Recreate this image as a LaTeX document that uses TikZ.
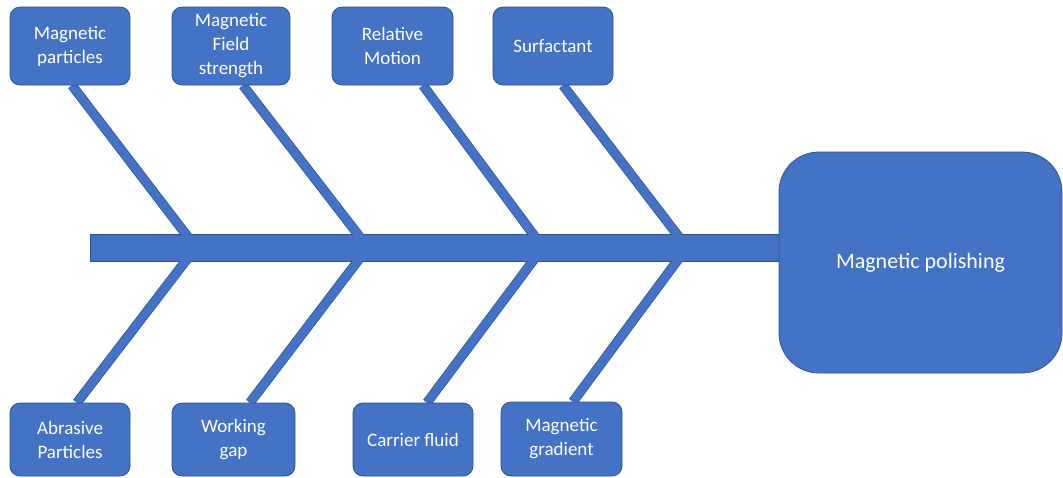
\documentclass[tikz,border=0pt]{standalone}
\usepackage{fontspec}
\setmainfont{Carlito}
\usetikzlibrary{calc}
\definecolor{boxfill}{HTML}{4472C4}
\definecolor{boxline}{HTML}{2F528F}
\pgfdeclarelayer{bgA}
\pgfdeclarelayer{bgB}
\pgfsetlayers{bgA,bgB,main}
\tikzset{
  cause/.style={rectangle, rounded corners=10pt, fill=boxfill, draw=boxline, line width=0.8pt,
    text=white, align=center, inner sep=0pt, font=\fontsize{19}{24}\selectfont},
  effect/.style={rectangle, rounded corners=40pt, fill=boxfill, draw=boxline, line width=0.8pt,
    text=white, align=center, inner sep=0pt, font=\fontsize{22}{26}\selectfont},
  spinebar/.style={rectangle, fill=boxfill, draw=boxline, line width=0.8pt, inner sep=0pt},
  bone/.style={draw=boxline, line width=0.8pt, double=boxfill, double distance=8pt},
  bonefill/.style={draw=boxfill, line width=7.6pt}
}
\begin{document}
\begin{tikzpicture}[x=1pt,y=-1pt]
\useasboundingbox (0,0) rectangle (1063,477);
% effect box
\node[effect, minimum width=283pt, minimum height=221pt] (mpol) at (920.5,262.5) {Magnetic polishing};
% top causes
\node[cause, minimum width=120pt, minimum height=78pt] (c1) at (70,46) {Magnetic\\particles};
\node[cause, minimum width=118pt, minimum height=78pt] (c2) at (231,46) {Magnetic\\Field\\strength};
\node[cause, minimum width=121pt, minimum height=78pt] (c3) at (392.5,46) {Relative\\Motion};
\node[cause, minimum width=120pt, minimum height=78pt] (c4) at (553,46) {Surfactant};
% bottom causes
\node[cause, minimum width=120pt, minimum height=73pt] (d1) at (70,439.5) {Abrasive\\Particles};
\node[cause, minimum width=123pt, minimum height=73pt] (d2) at (233.5,439.5) {Working\\gap};
\node[cause, minimum width=120pt, minimum height=73pt] (d3) at (413,439.5) {Carrier fluid};
\node[cause, minimum width=121pt, minimum height=74pt] (d4) at (561.5,439) {Magnetic\\gradient};
% spine
\begin{pgfonlayer}{bgB}
\node[spinebar, minimum width=689pt, minimum height=27pt] (spine) at (434.5,247.5) {};
\end{pgfonlayer}
% junctions on spine
\coordinate (j1) at (196,247.5);
\coordinate (j2) at (368,247.5);
\coordinate (j3) at (543,247.5);
\coordinate (j4) at (687,247.5);
\coordinate (t1) at ($(c1.south)+(2,0)$);
\coordinate (t2) at ($(c2.south)+(12,0)$);
\coordinate (t3) at ($(c3.south)+(30.5,0)$);
\coordinate (t4) at ($(c4.south)+(10,0)$);
\coordinate (b1) at ($(d1.north)+(7,0)$);
\coordinate (b2) at ($(d2.north)+(16.5,0)$);
\coordinate (b3) at ($(d3.north)+(14,0)$);
\coordinate (b4) at ($(d4.north)+(11.5,0)$);
\begin{pgfonlayer}{bgA}
\foreach \a/\b in {t1/j1,t2/j2,t3/j3,t4/j4,b1/j1,b2/j2,b3/j3,b4/j4}
  \draw[bone] (\a) -- (\b);
\end{pgfonlayer}
\begin{pgfonlayer}{bgB}
\foreach \a/\b in {t1/j1,t2/j2,t3/j3,t4/j4,b1/j1,b2/j2,b3/j3,b4/j4}
  \draw[bonefill] (\a) -- (\b);
\end{pgfonlayer}
\end{tikzpicture}
\end{document}
